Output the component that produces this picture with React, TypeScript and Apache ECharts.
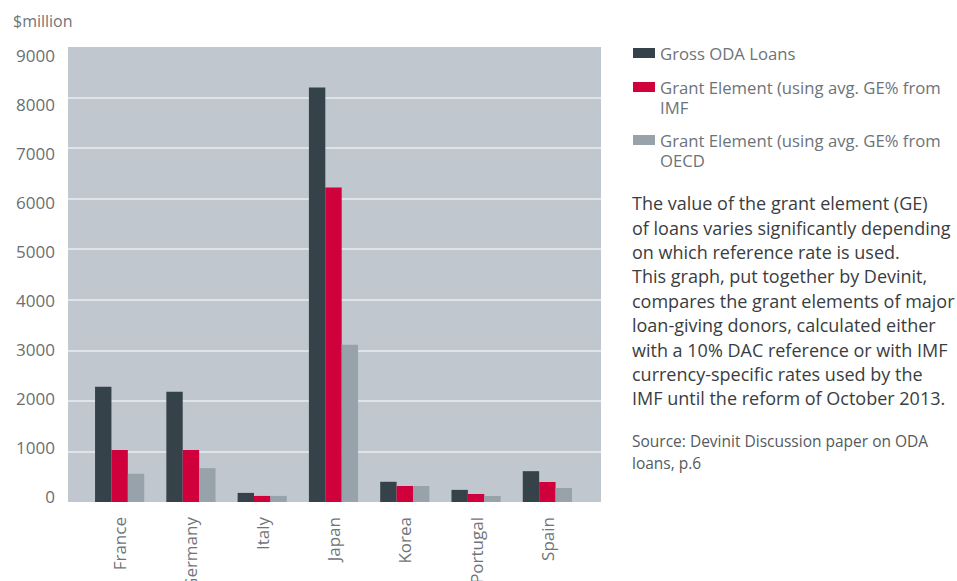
import React, { useEffect, useRef } from "react";
import * as echarts from "echarts";

const categories = ["France", "Germany", "Italy", "Japan", "Korea", "Portugal", "Spain"];
const grossOda = [2280, 2180, 180, 8200, 400, 240, 610];
const geImf = [1030, 1030, 120, 6220, 317, 158, 396];
const geOecd = [560, 670, 120, 3110, 317, 119, 277];
const yTicks = [0, 9000, 1000];

const legendItems = [
  { lines: ["Gross ODA Loans"], color: "#36424a" },
  { lines: ["Grant Element (using avg. GE% from", "IMF"], color: "#cf003c" },
  { lines: ["Grant Element (using avg. GE% from", "OECD"], color: "#97a2ab" },
];
const paragraph = [
  "The value of the grant element (GE)",
  "of loans varies significantly depending",
  "on which reference rate is used.",
  "This graph, put together by Devinit,",
  "compares the grant elements of major",
  "loan-giving donors, calculated either",
  "with a 10% DAC reference or with IMF",
  "currency-specific rates used by the",
  "IMF until the reform of October 2013.",
];
const source = ["Source: Devinit Discussion paper on ODA", "loans, p.6"];

const FONT = "Open Sans";

export default function App() {
  const ref = useRef<HTMLDivElement>(null);
  useEffect(() => {
    if (!ref.current) return;
    const chart = echarts.init(ref.current, undefined, { renderer: "svg" });
    const [yMin, yMax, yInt] = yTicks;
    const graphics: any[] = [];
    graphics.push({
      type: "text",
      x: 13,
      y: 13,
      style: { text: "$million", fill: "#707579", font: `16px "${FONT}"`, verticalAlign: "top" },
    });
    const legendTops = [48, 82, 135];
    legendItems.forEach((it, i) => {
      graphics.push({
        type: "rect",
        shape: { x: 633, y: legendTops[i], width: 22, height: 10 },
        style: { fill: it.color },
      });
      graphics.push({
        type: "text",
        x: 660,
        y: legendTops[i] - 5,
        style: {
          text: it.lines.join("\n"),
          fill: "#6d7378",
          font: `16.7px "${FONT}"`,
          lineHeight: 20,
          verticalAlign: "top",
        },
      });
    });
    graphics.push({
      type: "text",
      x: 632,
      y: 191,
      style: {
        text: paragraph.join("\n"),
        fill: "#3a3d40",
        font: `18px "${FONT}"`,
        lineHeight: 24.4,
        verticalAlign: "top",
      },
    });
    graphics.push({
      type: "text",
      x: 632,
      y: 430,
      style: {
        text: source.join("\n"),
        fill: "#555a5e",
        font: `15.5px "${FONT}"`,
        lineHeight: 22,
        verticalAlign: "top",
      },
    });

    const mkSeries = (name: string, data: number[], color: string) => ({
      name,
      type: "bar",
      xAxisIndex: 1,
      yAxisIndex: 1,
      data,
      itemStyle: { color },
      barGap: "0%",
      barCategoryGap: "31%",
    });

    chart.setOption({
      animation: false,
      textStyle: { fontFamily: FONT },
      grid: [
        { left: 68, right: 356, top: 47, bottom: 79, show: true, backgroundColor: "#c0c7cf", borderWidth: 0, outerBoundsMode: "none", containLabel: false },
        { left: 84, right: 374, top: 47, bottom: 79, outerBoundsMode: "none", containLabel: false },
        { left: 68, right: 356, top: 55, bottom: 85, outerBoundsMode: "none", containLabel: false },
      ],
      xAxis: [
        { gridIndex: 0, type: "value", show: false },
        {
          gridIndex: 1,
          type: "category",
          data: categories,
          axisLine: { show: false },
          axisTick: { show: false },
          axisLabel: { rotate: 90, fontSize: 17, color: "#6f7479", margin: 15, fontFamily: FONT },
        },
        { gridIndex: 2, type: "value", show: false },
      ],
      yAxis: [
        {
          gridIndex: 0,
          type: "value",
          min: yMin,
          max: yMax,
          interval: yInt,
          axisLabel: { show: false },
          axisLine: { show: false },
          axisTick: { show: false },
          splitLine: { show: true, showMinLine: false, showMaxLine: false, lineStyle: { color: "#e0e4e8", width: 2 } },
        },
        {
          gridIndex: 1,
          type: "value",
          min: yMin,
          max: yMax,
          interval: yInt,
          show: false,
          splitLine: { show: false },
        },
        {
          gridIndex: 2,
          type: "value",
          min: yMin,
          max: yMax,
          interval: yInt,
          axisLine: { show: false },
          axisTick: { show: false },
          splitLine: { show: false },
          axisLabel: {
            fontSize: 17,
            color: "#6a6f73",
            margin: 13,
            fontFamily: FONT,
            formatter: (v: number) => String(v),
          },
        },
      ],
      series: [
        mkSeries("Gross ODA Loans", grossOda, "#36424a"),
        mkSeries("Grant Element (using avg. GE% from IMF", geImf, "#cf003c"),
        mkSeries("Grant Element (using avg. GE% from OECD", geOecd, "#97a2ab"),
      ],
      graphic: graphics,
    });
    return () => chart.dispose();
  }, []);
  return <div ref={ref} style={{ width: 957, height: 581, position: "absolute", left: 0, top: 0 }} />;
}
